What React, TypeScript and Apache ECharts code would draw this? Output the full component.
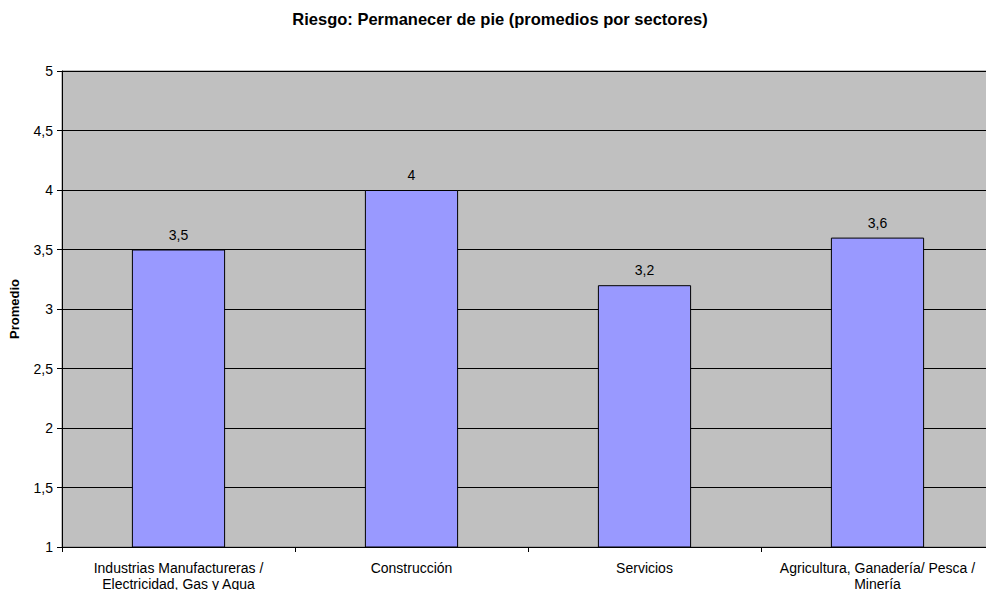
import React, { useEffect, useRef } from "react";
import * as echarts from "echarts";

const titleText = "Riesgo: Permanecer de pie (promedios por sectores)";
const yAxisName = "Promedio";
const categories = [
  "Industrias Manufactureras /\nElectricidad, Gas y Agua",
  "Construcción",
  "Servicios",
  "Agricultura, Ganadería/ Pesca /\nMinería",
];
const values = [3.5, 4, 3.2, 3.6];
const yMin = 1;
const yMax = 5;
const yInterval = 0.5;

const fmt = (v: number) => String(v).replace(".", ",");
const font = "Liberation Sans, Arial, Helvetica, sans-serif";

export default function App() {
  const ref = useRef<HTMLDivElement>(null);
  useEffect(() => {
    if (!ref.current) return;
    const chart = echarts.init(ref.current, null, { renderer: "svg" });
    chart.setOption({
      animation: false,
      backgroundColor: "#ffffff",
      textStyle: { fontFamily: font },
      graphic: [
        {
          type: "text",
          x: 500,
          y: 19,
          style: {
            text: titleText,
            font: `bold 16.5px ${font}`,
            fill: "#000",
            textAlign: "center",
            textVerticalAlign: "middle",
          },
        },
      ],
      grid: {
        left: 62,
        top: 71,
        width: 932,
        height: 476,
        outerBoundsMode: "none",
        containLabel: false,
        show: true,
        backgroundColor: "#C0C0C0",
        borderColor: "#808080",
        borderWidth: 1,
      },
      xAxis: {
        type: "category",
        data: categories,
        axisLine: { show: true, lineStyle: { color: "#000", width: 1 } },
        axisTick: { show: true, length: 5, lineStyle: { color: "#000" } },
        axisLabel: {
          color: "#000",
          fontSize: 14,
          lineHeight: 16,
          margin: 13,
          interval: 0,
          fontFamily: font,
        },
        splitLine: { show: false },
      },
      yAxis: {
        type: "value",
        min: yMin,
        max: yMax,
        interval: yInterval,
        name: yAxisName,
        nameLocation: "middle",
        nameGap: 41,
        nameRotate: 90,
        nameTextStyle: { fontWeight: "bold", fontSize: 13, color: "#000", fontFamily: font },
        axisLine: { show: true, lineStyle: { color: "#000", width: 1 } },
        axisTick: { show: true, length: 5, lineStyle: { color: "#000" } },
        axisLabel: {
          color: "#000",
          fontSize: 14,
          margin: 9,
          fontFamily: font,
          formatter: (v: number) => fmt(v),
        },
        splitLine: { show: true, lineStyle: { color: "#000", width: 1 } },
      },
      series: [
        {
          type: "bar",
          data: values,
          barWidth: "40%",
          itemStyle: { color: "#9999FF", borderColor: "#000", borderWidth: 1 },
          label: {
            show: true,
            position: "top",
            distance: 8,
            color: "#000",
            fontSize: 14,
            fontFamily: font,
            formatter: (p: any) => fmt(p.value),
          },
        },
      ],
    });
    return () => chart.dispose();
  }, []);
  return (
    <div
      ref={ref}
      style={{ position: "fixed", left: 0, top: 0, width: 986, height: 590, overflow: "hidden" }}
    />
  );
}
